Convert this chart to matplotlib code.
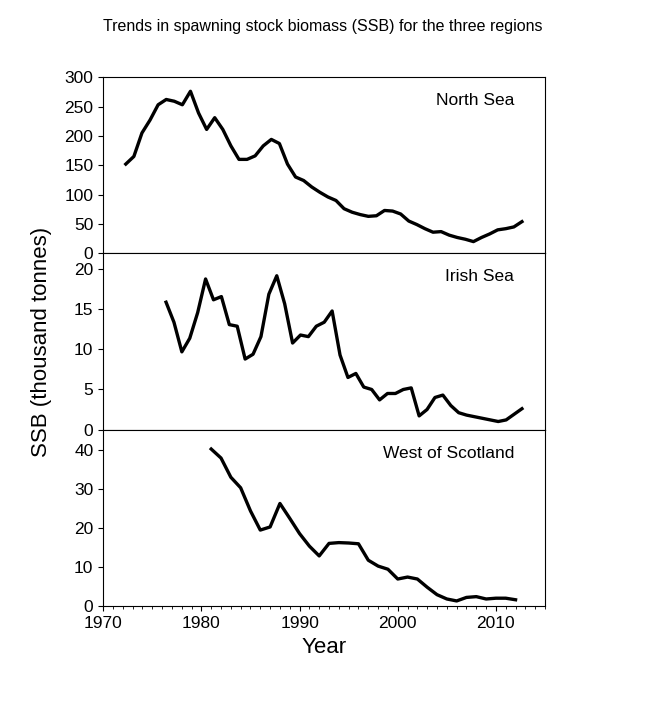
import numpy as np
import matplotlib.pyplot as plt
from matplotlib.ticker import MultipleLocator

plt.rcParams["font.family"] = "Liberation Sans"

title = "Trends in spawning stock biomass (SSB) for the three regions"
regions = ["North Sea", "Irish Sea", "West of Scotland"]

ns_start, ns_end = 1972.3, 2012.65
ns_ssb = [152, 165, 205, 227, 253, 262, 259, 253, 276, 239, 211, 231, 211, 183, 160,
          160, 166, 183, 194, 187, 152, 130, 124, 113, 104, 96, 90, 76, 70, 66,
          63, 64, 73, 72, 67, 55, 49, 42, 36, 37, 31, 27, 24, 20, 27, 33, 40, 42, 45, 54]

is_start, is_end = 1976.4, 2012.65
is_ssb = [15.9, 13.4, 9.7, 11.4, 14.6, 18.8, 16.2, 16.6, 13.1, 12.9, 8.8, 9.4, 11.6,
          16.9, 19.2, 15.7, 10.8, 11.8, 11.6, 12.9, 13.4, 14.8, 9.3, 6.5, 7.0, 5.3,
          5.0, 3.7, 4.5, 4.5, 5.0, 5.2, 1.7, 2.5, 4.0, 4.3, 3.0, 2.1, 1.8, 1.6, 1.4,
          1.2, 1.0, 1.2, 1.9, 2.6]

wos_start, wos_end = 1981, 2012
wos_ssb = [40.2, 37.9, 33, 30.3, 24.4, 19.5, 20.3, 26.3, 22.5, 18.6, 15.4, 12.9, 16.1,
           16.3, 16.2, 16.0, 11.8, 10.3, 9.5, 7.0, 7.5, 7.0, 4.9, 3.0, 1.9, 1.4, 2.3,
           2.5, 1.9, 2.1, 2.1, 1.7]

series = [(ns_start, ns_end, ns_ssb), (is_start, is_end, is_ssb), (wos_start, wos_end, wos_ssb)]
ylims = [(0, 300, 50), (0, 22, 5), (0, 45, 10)]

fig = plt.figure(figsize=(6.45, 7.28), dpi=100)
fig.text(0.5, 0.963, title, ha="center", va="center", fontsize=11.5)

tops = [0.894, 0.652, 0.409]
h = 0.242
axes = []
for i, (s, e, vals) in enumerate(series):
    ax = fig.add_axes([0.16, tops[i] - h, 0.685, h])
    x = np.linspace(s, e, len(vals))
    ax.plot(x, vals, color="black", lw=2.4)
    lo, hi, step = ylims[i]
    ax.set_ylim(lo, hi)
    ax.yaxis.set_major_locator(MultipleLocator(step))
    ax.set_xlim(1970, 2015)
    ax.text(0.93, 0.87, regions[i], transform=ax.transAxes, ha="right", va="center", fontsize=12.5)
    ax.tick_params(labelsize=12.5, direction="out")
    if i < 2:
        ax.tick_params(axis="x", bottom=False, labelbottom=False)
    axes.append(ax)

# lift the bottom "0" of the top panel a bit so it clears the "20" below
axes[0].get_yticklabels()[0].set_va("bottom")

axes[2].xaxis.set_major_locator(MultipleLocator(10))
axes[2].xaxis.set_minor_locator(MultipleLocator(1))
axes[2].set_xlabel("Year", fontsize=16)
fig.text(0.065, 0.53, "SSB (thousand tonnes)", rotation=90, ha="center", va="center", fontsize=16)

fig.savefig("out.png", dpi=100)
